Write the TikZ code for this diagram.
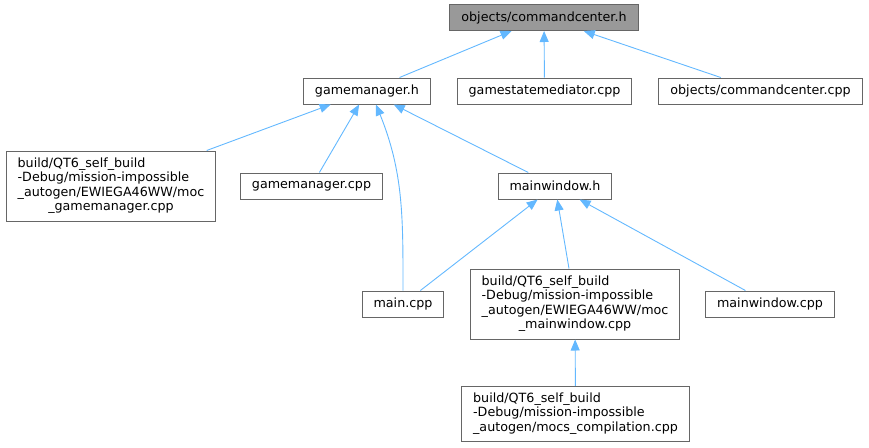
\documentclass[tikz,border=0pt]{standalone}
\usepackage{fontspec}
\setmainfont{DejaVu Sans}
\usetikzlibrary{arrows.meta, positioning, calc}
\definecolor{cedge}{HTML}{63B8FF}
\definecolor{cborder}{HTML}{666666}
\definecolor{ctop}{HTML}{999999}
\tikzset{
  every picture/.style={font=\fontsize{12.7}{14.5}\selectfont},
  file/.style={draw=cborder, fill=#1, line width=1pt, inner xsep=11.5pt, inner ysep=6pt, minimum height=26pt},
  file/.default=white,
  dep/.style={-{Triangle[length=11pt, width=9pt]}, draw=cedge, line width=0.9pt},
}

\begin{document}
\begin{tikzpicture}[x=1pt, y=-1pt]
  \useasboundingbox (0,0) rectangle (869,447);
  % header and its direct includers
  \node[file=ctop] (cch) at (544,17.5) {objects/commandcenter.h};
  \node[file] (gmh) at (367,91) {gamemanager.h};
  \node[file] (gsm) at (544.5,91) {gamestatemediator.cpp};
  \node[file] (cccpp) at (760.5,91) {objects/commandcenter.cpp};
  % second level
  \node[file] (mocgm) at (111,186) {\begin{tabular}{@{}l@{}}build/QT6\_self\_build\\-Debug/mission-impossible\\\_autogen/EWIEGA46WW/moc\\\multicolumn{1}{@{}c@{}}{\_gamemanager.cpp}\end{tabular}};
  \node[file] (gmcpp) at (311.5,186) {gamemanager.cpp};
  \node[file] (mwh) at (555,186) {mainwindow.h};
  % third level
  \node[file] (maincpp) at (403,304) {main.cpp};
  \node[file] (mocmw) at (575,304) {\begin{tabular}{@{}l@{}}build/QT6\_self\_build\\-Debug/mission-impossible\\\_autogen/EWIEGA46WW/moc\\\multicolumn{1}{@{}c@{}}{\_mainwindow.cpp}\end{tabular}};
  \node[file] (mwcpp) at (770,304) {mainwindow.cpp};
  \node[file] (mocs) at (575.5,414) {\begin{tabular}{@{}l@{}}build/QT6\_self\_build\\-Debug/mission-impossible\\\_autogen/mocs\_compilation.cpp\end{tabular}};
  % includes
  \draw[dep] (gmh) -- (cch);
  \draw[dep] (gsm) -- (cch);
  \draw[dep] (cccpp) -- (cch);
  \draw[dep] (mocgm) -- (gmh);
  \draw[dep] (gmcpp) -- (gmh);
  \draw[dep] (maincpp.north) to[out=90, in=-68] ($(gmh.south)+(9,0)$);
  \draw[dep] (mwh) -- (gmh);
  \draw[dep] (maincpp) -- (mwh);
  \draw[dep] (mocmw) -- (mwh);
  \draw[dep] (mwcpp) -- (mwh);
  \draw[dep] (mocs) -- (mocmw);
\end{tikzpicture}
\end{document}
